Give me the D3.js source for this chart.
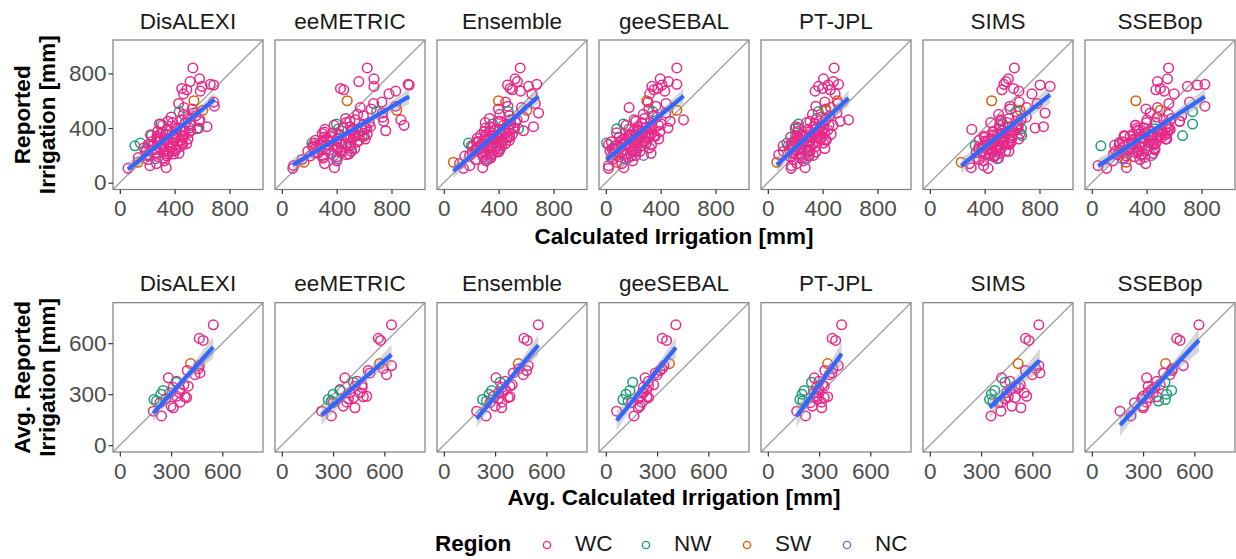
<!DOCTYPE html>
<html><head><meta charset="utf-8">
<script src="https://cdn.jsdelivr.net/npm/d3@7"></script>
<style>
body{margin:0;background:#fff}
svg{display:block}
text{font-family:"Liberation Sans",Arial,Helvetica,sans-serif}
</style>
</head><body>
<svg id="chart" width="1236" height="559"></svg>
<script>
// ---------------- DATA ----------------
const models = ["DisALEXI","eeMETRIC","Ensemble","geeSEBAL","PT-JPL","SIMS","SSEBop"];
const regions = ["WC","NW","SW","NC"];
const regionColors = ["#E7298A","#1B9E77","#D95F02","#7570B3"];
const topTicks = [0,400,800];
const bottomTicks = [0,300,600];

// Top row: reported irrigation per field-year (shared by all models)
const reported = [
 840,760,740,720,715,705,690,680,670,650,
 600,590,580,560,550,540,530,520,510,500,
 490,480,470,460,450,440,430,420,410,400,
 395,390,380,370,360,350,345,340,330,320,
 310,300,295,290,280,270,260,250,240,230,
 220,210,200,190,180,170,160,150,140,125,
 110,105,330,270,380,175,350,340,320,310,
 300,290,280,260,250,240,230,220,210,200,
 460,450,440,430,420,410,400,390,385,375,
 365,355,350,345,335,325,320,315,305,300,
 290,285,275,270,265,255,250,245,235,230,
 225,215,205,195,185,340,310,280,360,400];
const reportedRegion = [
 "WC","WC","WC","WC","WC","WC","WC","WC","WC","WC",
 "SW","WC","WC","WC","WC","WC","SW","NW","WC","WC",
 "WC","WC","WC","WC","WC","WC","NW","WC","WC","WC",
 "NW","WC","WC","WC","WC","WC","NW","WC","WC","WC",
 "SW","WC","WC","NW","WC","NW","WC","WC","WC","WC",
 "WC","WC","NC","WC","WC","WC","WC","SW","WC","WC",
 "WC","WC","WC","WC","WC","NC","WC","WC","WC","WC",
 "WC","WC","WC","WC","NC","WC","WC","WC","WC","WC",
 "WC","WC","WC","WC","WC","WC","WC","WC","WC","WC",
 "WC","WC","WC","WC","WC","WC","WC","WC","WC","WC",
 "WC","WC","WC","WC","WC","WC","WC","WC","WC","WC",
 "WC","WC","WC","WC","WC","WC","WC","WC","WC","WC"];
const calcDisALEXI = [
 533,582,513,660,685,600,452,489,587,465,
 541,685,429,690,468,529,606,433,539,464,
 555,375,496,451,580,385,300,312,636,508,
 562,411,517,314,413,338,232,271,407,348,
 439,281,360,150,207,110,291,412,232,360,
 271,392,190,281,319,206,327,132,268,220,
 338,60,392,230,472,263,345,466,280,394,
 281,455,320,366,194,322,383,264,347,205,
 584,352,478,289,516,400,577,344,457,276,
 503,337,224,455,390,274,497,326,444,232,
 384,488,248,311,442,176,373,269,404,191,
 322,432,208,343,135,460,297,460,298,418];
const calcEeMETRIC = [
 623,672,562,922,929,672,428,452,831,782,
 477,730,670,831,572,652,838,693,734,554,
 595,735,466,868,497,637,398,892,499,619,
 414,520,758,311,531,422,587,352,523,403,
 564,294,419,220,325,486,226,407,347,508,
 258,359,380,400,300,147,401,162,312,86,
 384,80,503,226,510,405,422,532,333,244,
 354,495,275,406,507,317,428,238,489,299,
 537,743,469,597,381,646,450,314,583,505,
 368,623,422,565,310,487,609,330,399,551,
 238,469,341,503,254,400,532,274,430,190,
 441,264,471,206,305,599,305,434,295,607];
const calcEnsemble = [
 557,520,537,679,465,618,484,500,560,642,
 399,451,667,467,566,398,606,470,691,408,
 478,584,333,487,411,523,356,476,654,505,
 545,407,581,339,451,270,400,361,474,300,
 370,252,403,180,295,200,240,346,241,403,
 278,327,338,286,343,232,309,70,114,189,
 284,143,383,422,366,319,305,480,342,384,
 238,413,281,331,402,241,340,271,355,188,
 534,398,302,488,434,338,516,373,472,295,
 418,501,307,358,461,243,404,318,428,254,
 357,449,265,379,211,382,263,411,226,298,
 398,206,309,153,337,347,479,275,422,304];
const calcGeeSEBAL = [
 518,397,457,518,410,336,380,350,430,320,
 299,308,439,365,170,314,518,342,437,273,
 344,373,282,567,219,326,129,384,233,291,
 80,320,259,222,317,171,264,176,313,204,
 245,105,210,5,163,228,113,57,122,205,
 72,155,275,98,163,48,197,81,116,20,
 131,19,235,258,205,147,219,290,138,233,
 195,296,139,179,69,200,223,114,137,219,
 207,469,262,405,148,331,453,166,243,395,
 78,311,187,354,97,249,386,122,285,41,
 294,121,333,70,176,319,45,202,30,251,
 117,330,53,186,40,360,149,20,335,293];
const calcPTJPL = [
 484,406,479,516,440,370,400,455,345,491,
 506,416,512,350,458,422,423,368,504,326,
 452,392,356,589,308,398,224,446,338,380,
 200,350,398,302,368,254,203,272,356,224,
 308,368,257,139,212,150,248,284,158,308,
 194,242,302,164,248,188,260,66,212,173,
 272,170,308,170,374,281,284,308,386,224,
 302,242,326,176,284,236,308,182,242,332,
 423,528,283,345,476,205,404,295,438,218,
 349,462,237,379,168,385,236,421,193,284,
 406,172,303,112,349,231,416,183,296,114,
 350,182,80,298,232,214,427,238,414,224];
const calcSIMS = [
 617,573,555,540,805,877,611,526,650,745,
 451,653,782,584,705,586,659,628,841,502,
 639,704,577,666,515,444,533,646,829,768,
 669,306,610,459,660,509,670,398,599,448,
 513,594,415,531,452,331,358,487,440,577,
 370,435,430,469,502,359,392,229,290,392,
 302,425,399,509,530,490,453,534,648,361,
 538,451,580,382,519,424,553,338,435,476,
 519,629,564,640,510,582,643,509,589,464,
 584,494,599,467,514,581,445,520,405,539,
 468,572,433,498,392,522,426,358,488,451,
 383,508,403,470,340,543,585,427,522,629];
const calcSSEBop = [
 560,552,479,825,771,698,500,467,528,601,
 321,713,562,825,479,395,500,735,426,560,
 656,476,581,402,640,461,735,320,558,378,
 460,561,343,476,382,497,662,432,376,538,
 292,369,203,418,456,66,325,459,203,328,
 233,368,436,313,237,352,154,249,393,46,
 253,109,509,238,504,224,535,280,386,435,
 292,446,200,363,307,460,223,319,158,359,
 524,641,399,543,318,544,382,572,333,424,
 550,298,438,236,479,354,547,300,417,224,
 468,292,167,414,347,221,460,276,402,173,
 340,448,187,251,386,241,431,297,519,328];

// Bottom row: site averages
const avgReported = [708,628,616,480,468,439,425,415,396,376,370,347,340,327,322,308,
                     300,288,285,280,273,269,253,250,230,220,200,172,260,310,355,450];
const avgRegion = ["WC","WC","WC","SW","WC","WC","WC","WC","WC","WC","NW","WC","WC","WC","NW","WC",
                   "NW","WC","WC","WC","WC","NW","WC","WC","WC","WC","WC","WC","NW","WC","WC","WC"];
const avgDisALEXI = [547,465,488,414,465,395,469,440,284,332,330,400,312,353,254,293,
                     240,332,381,391,269,200,353,235,300,313,196,244,215,350,375,460];
const avgEeMETRIC = [642,565,578,572,642,506,516,613,369,440,419,428,470,340,340,457,
                     300,497,477,420,390,272,380,300,360,428,232,290,290,400,470,594];
const avgEnsemble = [553,469,488,436,494,485,407,465,305,358,330,387,340,360,280,320,
                     265,290,387,377,319,227,340,270,300,338,192,247,250,345,400,440];
const avgGeeSEBAL = [410,330,356,372,340,317,290,300,230,250,157,250,220,240,141,220,
                     118,200,240,250,190,100,210,150,200,190,63,165,130,215,280,330];
const avgPTJPL    = [432,377,397,350,412,334,375,360,272,300,256,330,285,300,213,270,
                     200,290,350,330,286,188,315,250,260,315,169,221,205,290,320,380];
const avgSIMS     = [638,560,580,517,638,560,644,600,420,469,440,500,520,470,380,552,
                     360,567,459,500,440,350,420,400,480,533,416,358,370,450,530,620];
const avgSSEBop   = [627,497,516,432,535,470,420,457,321,380,428,330,370,350,467,360,
                     438,300,380,340,292,430,320,250,300,301,165,229,390,330,400,470];

const topCalc = [calcDisALEXI,calcEeMETRIC,calcEnsemble,calcGeeSEBAL,calcPTJPL,calcSIMS,calcSSEBop];
const bottomCalc = [avgDisALEXI,avgEeMETRIC,avgEnsemble,avgGeeSEBAL,avgPTJPL,avgSIMS,avgSSEBop];

// ---------------- LAYOUT ----------------
const svg = d3.select("#chart");
const FONT = 22.5;
const panelW = 150, panelStep = 162, panelLeft = 113;
const rows = [
  {top:40, bottom:189.5, domain:[-49.7,1044.5], ticks:topTicks, ys:reported, reg:reportedRegion, xs:topCalc,
   stripY:28.5, xTitle:"Calculated Irrigation [mm]", xTitleY:243.5, yTitle:["Reported","Irrigation [mm]"]},
  {top:302.7, bottom:452, domain:[-40,838], ticks:bottomTicks, ys:avgReported, reg:avgRegion, xs:bottomCalc,
   stripY:290.5, xTitle:"Avg. Calculated Irrigation [mm]", xTitleY:505, yTitle:["Avg. Reported","Irrigation [mm]"]}
];
const color = d3.scaleOrdinal().domain(regions).range(regionColors);

function fit(xs, ys){
  const n = xs.length, mx = d3.mean(xs), my = d3.mean(ys);
  let sxx=0, sxy=0;
  for(let i=0;i<n;i++){ sxx+=(xs[i]-mx)**2; sxy+=(xs[i]-mx)*(ys[i]-my); }
  const b = sxy/sxx, a = my-b*mx;
  let sse=0;
  for(let i=0;i<n;i++){ sse+=(ys[i]-a-b*xs[i])**2; }
  const s = Math.sqrt(sse/(n-2));
  const t = 1.96 + 2.5/(n-2);
  return {a,b,s,mx,sxx,n,t,xmin:d3.min(xs),xmax:d3.max(xs)};
}

rows.forEach((row, ri) => {
  models.forEach((m, mi) => {
    const x0 = panelLeft + mi*panelStep;
    const x = d3.scaleLinear().domain(row.domain).range([x0, x0+panelW]);
    const y = d3.scaleLinear().domain(row.domain).range([row.bottom, row.top]);
    const g = svg.append("g");
    const clipId = `clip-${ri}-${mi}`;
    svg.append("clipPath").attr("id", clipId).append("rect")
      .attr("x", x0).attr("y", row.top).attr("width", panelW).attr("height", row.bottom-row.top);

    g.append("text").attr("x", x0+panelW/2).attr("y", row.stripY)
      .attr("text-anchor","middle").attr("font-size",FONT).attr("fill","#1a1a1a").text(m);

    const inner = g.append("g").attr("clip-path", `url(#${clipId})`);
    inner.append("line")
      .attr("x1", x(row.domain[0])).attr("y1", y(row.domain[0]))
      .attr("x2", x(row.domain[1])).attr("y2", y(row.domain[1]))
      .attr("stroke","#a3a3a3").attr("stroke-width",1.4);

    const xs = row.xs[mi], ys = row.ys;
    const pts = xs.map((v,i)=>({x:v, y:ys[i], r:row.reg[i]}));
    inner.selectAll("circle").data(pts).enter().append("circle")
      .attr("cx", d=>x(d.x)).attr("cy", d=>y(d.y)).attr("r", 4.8)
      .attr("fill","none").attr("stroke", d=>color(d.r)).attr("stroke-width",1.5);

    const f = fit(xs, ys);
    const grid = d3.range(0, 81).map(k => f.xmin + (f.xmax-f.xmin)*k/80);
    const band = grid.map(gx => {
      const yh = f.a + f.b*gx;
      const se = f.s*Math.sqrt(1/f.n + (gx-f.mx)**2/f.sxx);
      return {x:gx, lo:yh-f.t*se, hi:yh+f.t*se, yh};
    });
    inner.append("path").datum(band)
      .attr("d", d3.area().x(d=>x(d.x)).y0(d=>y(d.lo)).y1(d=>y(d.hi)))
      .attr("fill","#999999").attr("fill-opacity",0.4);
    inner.append("path").datum(band)
      .attr("d", d3.line().x(d=>x(d.x)).y(d=>y(d.yh)))
      .attr("fill","none").attr("stroke","#3366FF").attr("stroke-width",4.2);

    g.append("rect").attr("x",x0).attr("y",row.top).attr("width",panelW).attr("height",row.bottom-row.top)
      .attr("fill","none").attr("stroke","#7f7f7f").attr("stroke-width",1.2);

    const ax = g.append("g").attr("transform",`translate(0,${row.bottom})`)
      .call(d3.axisBottom(x).tickValues(row.ticks).tickSize(4.5).tickPadding(6.5).tickFormat(d3.format("d")));
    ax.select(".domain").remove();
    ax.selectAll("line").attr("stroke","#333").attr("stroke-width",1.2);
    ax.selectAll("text").attr("font-size",FONT).attr("fill","#4d4d4d")
      .attr("font-family",'"Liberation Sans",Arial,sans-serif');

    if(mi===0){
      const ay = g.append("g").attr("transform",`translate(${x0},0)`)
        .call(d3.axisLeft(y).tickValues(row.ticks).tickSize(4.5).tickPadding(2).tickFormat(d3.format("d")));
      ay.select(".domain").remove();
      ay.selectAll("line").attr("stroke","#333").attr("stroke-width",1.2);
      ay.selectAll("text").attr("font-size",FONT).attr("fill","#4d4d4d")
        .attr("font-family",'"Liberation Sans",Arial,sans-serif');
    }
  });

  const cx = panelLeft + (6*panelStep + panelW)/2;
  svg.append("text").attr("x",cx).attr("y",row.xTitleY).attr("text-anchor","middle")
    .attr("font-size",FONT).attr("font-weight","bold").attr("fill","#000").text(row.xTitle);
  const cy = (row.top+row.bottom)/2;
  row.yTitle.forEach((t, k) => {
    const tx = 30 + k*25;
    svg.append("text").attr("transform",`translate(${tx},${cy}) rotate(-90)`)
      .attr("text-anchor","middle").attr("font-size",FONT).attr("font-weight","bold").attr("fill","#000").text(t);
  });
});

const leg = svg.append("g");
leg.append("text").attr("x",435).attr("y",550.5).attr("font-size",FONT).attr("font-weight","bold").text("Region");
const legKeyX = [547,646,747,847];
regions.forEach((r,i)=>{
  leg.append("circle").attr("cx",legKeyX[i]).attr("cy",545).attr("r",3.6)
    .attr("fill","none").attr("stroke",color(r)).attr("stroke-width",1.4);
  leg.append("text").attr("x",legKeyX[i]+28).attr("y",550.5).attr("font-size",FONT).attr("fill","#1a1a1a").text(r);
});
</script>
</body></html>
